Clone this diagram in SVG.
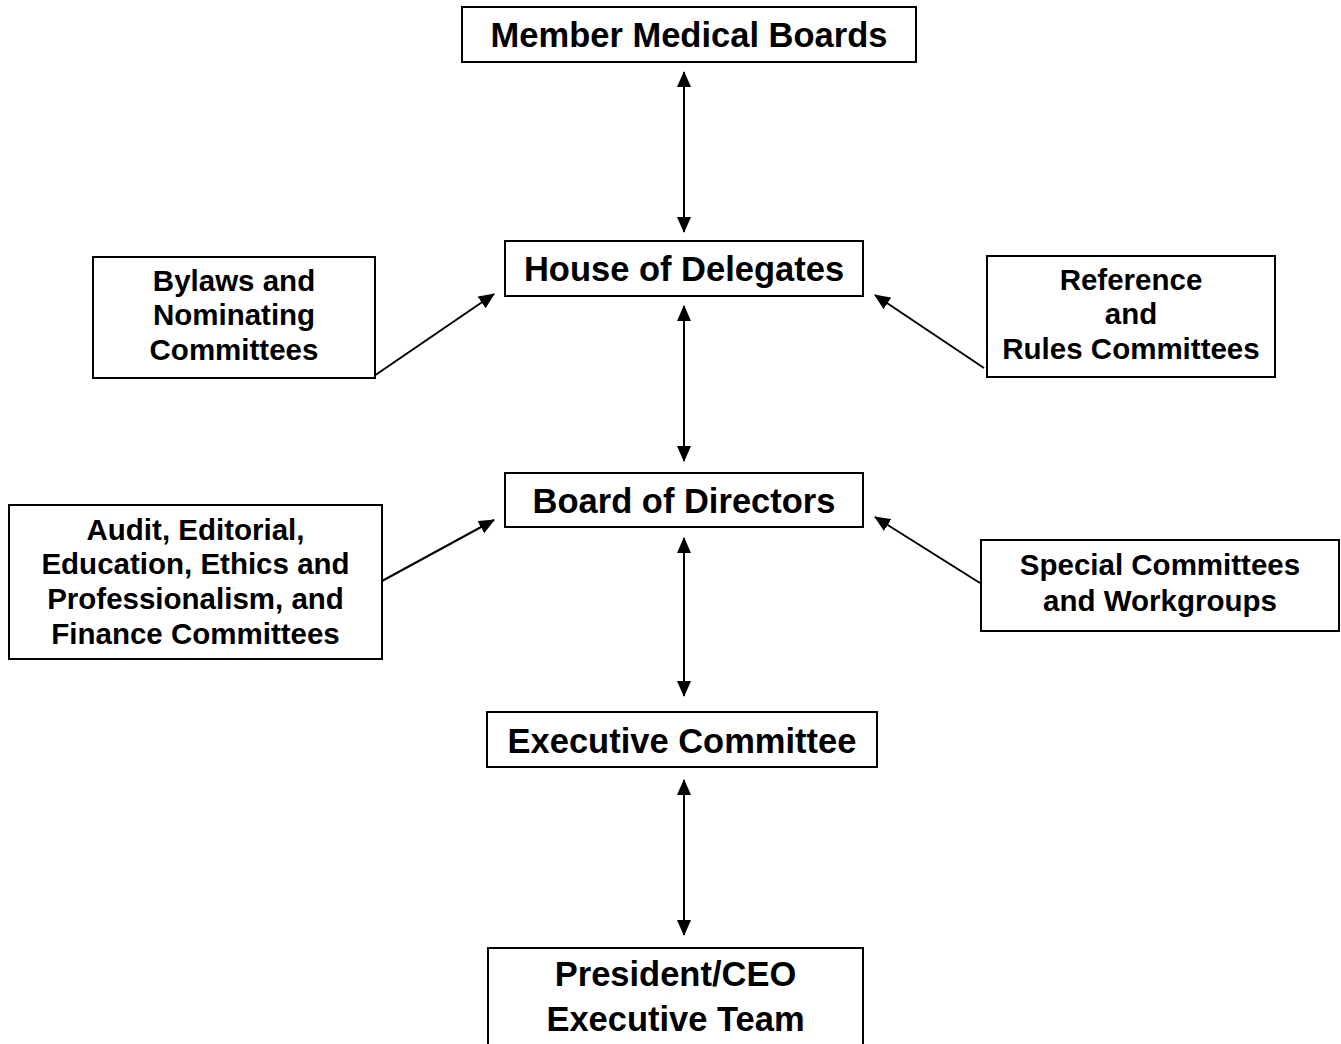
<svg xmlns="http://www.w3.org/2000/svg" width="1341" height="1044" viewBox="0 0 1341 1044">
<style>
.box{fill:#fff;stroke:#000;stroke-width:2}
.t{font-family:"Liberation Sans",Arial,sans-serif;font-weight:bold;text-anchor:middle;fill:#000}
.big{font-size:34.5px}
.sm{font-size:29.5px}
.c{stroke:#000;stroke-width:2;fill:none}
</style>
<defs>
<marker id="ah" markerUnits="userSpaceOnUse" markerWidth="16" markerHeight="14" refX="15" refY="7" orient="auto-start-reverse" viewBox="0 0 16 14">
<path d="M0,0 L16,7 L0,14 z" fill="#000"/>
</marker>
</defs>
<rect width="1341" height="1044" fill="#fff"/>
<g id="connectors">
<line class="c" x1="684" y1="72" x2="684" y2="232" marker-start="url(#ah)" marker-end="url(#ah)"/>
<line class="c" x1="684" y1="306" x2="684" y2="461" marker-start="url(#ah)" marker-end="url(#ah)"/>
<line class="c" x1="684" y1="538" x2="684" y2="696" marker-start="url(#ah)" marker-end="url(#ah)"/>
<line class="c" x1="684" y1="780" x2="684" y2="935" marker-start="url(#ah)" marker-end="url(#ah)"/>
<line class="c" x1="374" y1="376" x2="494" y2="294" marker-end="url(#ah)"/>
<line class="c" x1="984" y1="368" x2="875" y2="295" marker-end="url(#ah)"/>
<line class="c" x1="382" y1="581" x2="494" y2="520" marker-end="url(#ah)"/>
<line class="c" x1="980" y1="583" x2="875" y2="517" marker-end="url(#ah)"/>
</g>
<g id="member-boards">
<rect class="box" x="462" y="7" width="454" height="55"/>
<text class="t big" x="689" y="47">Member Medical Boards</text>
</g>
<g id="house-of-delegates">
<rect class="box" x="505" y="241" width="358" height="55"/>
<text class="t big" x="684" y="281">House of Delegates</text>
</g>
<g id="board-of-directors">
<rect class="box" x="505" y="473" width="358" height="54"/>
<text class="t big" x="684" y="513">Board of Directors</text>
</g>
<g id="executive-committee">
<rect class="box" x="487" y="712" width="390" height="55"/>
<text class="t big" x="682" y="753">Executive Committee</text>
</g>
<g id="president-ceo">
<rect class="box" x="488" y="948" width="375" height="110"/>
<text class="t big" x="675.5" y="986">President/CEO</text>
<text class="t big" x="675.5" y="1031">Executive Team</text>
</g>
<g id="bylaws">
<rect class="box" x="93" y="257" width="282" height="121"/>
<text class="t sm" x="234" y="291">Bylaws and</text>
<text class="t sm" x="234" y="325">Nominating</text>
<text class="t sm" x="234" y="360">Committees</text>
</g>
<g id="reference-rules">
<rect class="box" x="987" y="256" width="288" height="121"/>
<text class="t sm" x="1131" y="290">Reference</text>
<text class="t sm" x="1131" y="324">and</text>
<text class="t sm" x="1131" y="359">Rules Committees</text>
</g>
<g id="audit-etc">
<rect class="box" x="9" y="505" width="373" height="154"/>
<text class="t sm" x="195.5" y="540">Audit, Editorial,</text>
<text class="t sm" x="195.5" y="574">Education, Ethics and</text>
<text class="t sm" x="195.5" y="609">Professionalism, and</text>
<text class="t sm" x="195.5" y="644">Finance Committees</text>
</g>
<g id="special-committees">
<rect class="box" x="981" y="540" width="358" height="91"/>
<text class="t sm" x="1160" y="575">Special Committees</text>
<text class="t sm" x="1160" y="611">and Workgroups</text>
</g>
</svg>
